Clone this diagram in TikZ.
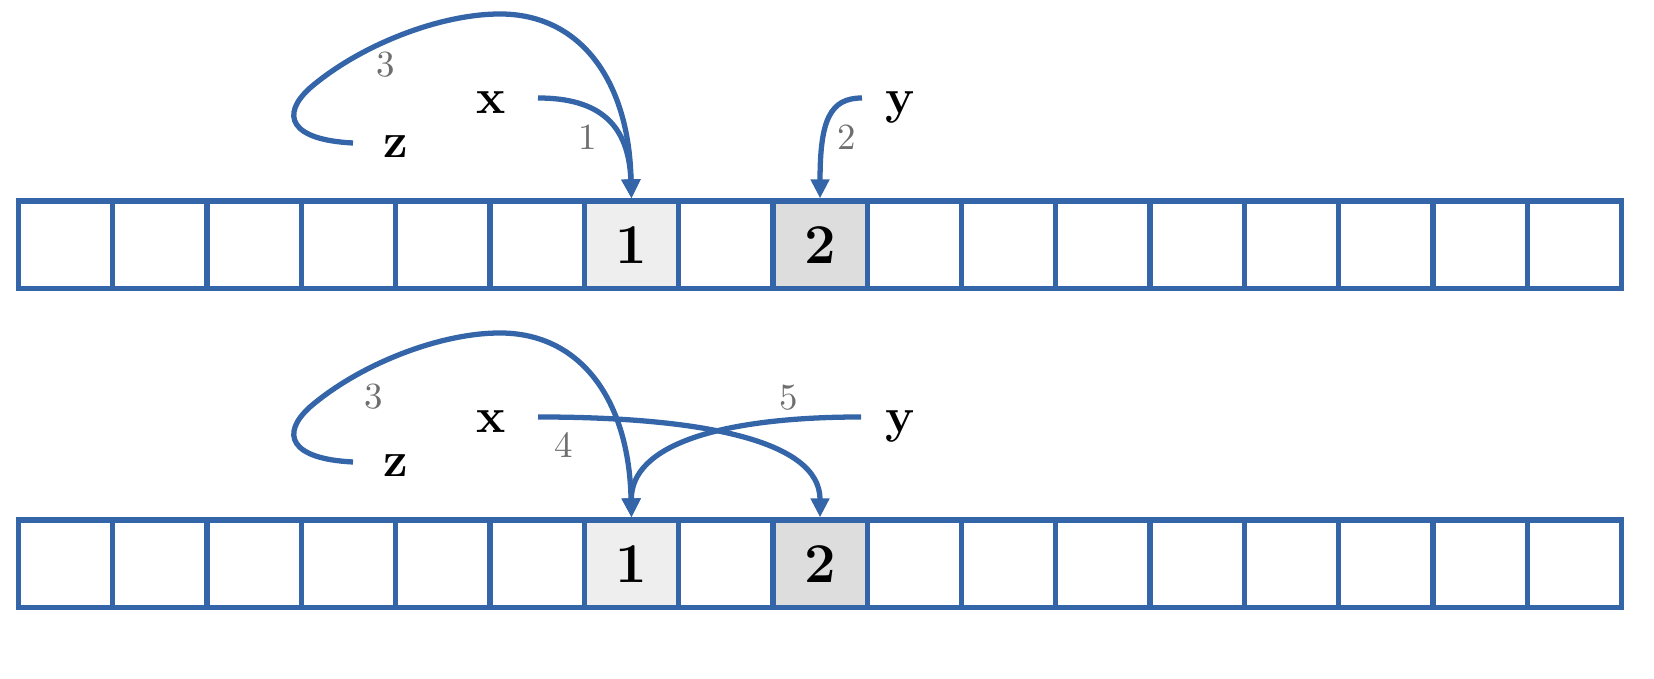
\documentclass[tikz,border=0pt]{standalone}
\usetikzlibrary{arrows.meta}
\definecolor{lineblue}{HTML}{3465A8}
\definecolor{lblgray}{HTML}{6E6E6E}
\definecolor{cellA}{HTML}{EEEEEE}
\definecolor{cellB}{HTML}{DDDDDD}
\begin{document}
\begin{tikzpicture}[x=0.1mm,y=-0.1mm,
  cell/.style={draw=lineblue, line width=1.5pt, minimum width=9.43mm, minimum height=8.75mm, inner sep=0pt, font=\fontsize{16}{18}\selectfont\bfseries},
  var/.style={anchor=base, inner sep=0pt, font=\fontsize{14}{16}\selectfont\bfseries},
  lbl/.style={text=lblgray, inner sep=0pt, font=\fontsize{10.5}{12}\selectfont},
  ptr/.style={draw=lineblue, line width=1.5pt, -{Triangle[length=1.9mm,width=1.8mm]}}]
\useasboundingbox (0,0) rectangle (1654,679);
\foreach \i in {0,...,5,7,9,10,...,16} {
  \node[cell] (t\i) at ({18.5+94.3*(\i+0.5)}, 244.75) {};
  \node[cell] (b\i) at ({18.5+94.3*(\i+0.5)}, 563.75) {};
}
\node[cell, fill=cellA] (t6) at ({18.5+94.3*6.5}, 244.75) {1};
\node[cell, fill=cellB] (t8) at ({18.5+94.3*8.5}, 244.75) {2};
\node[cell, fill=cellA] (b6) at ({18.5+94.3*6.5}, 563.75) {1};
\node[cell, fill=cellB] (b8) at ({18.5+94.3*8.5}, 563.75) {2};
% top
\node[var] (x1) at (491,114) {x};
\node[var] (z1) at (396,158) {z};
\node[var] (y1) at (900,114) {y};
\coordinate (x1s) at (538,98);
\coordinate (z1s) at (353,143);
\coordinate (y1s) at (862,98);
\draw[ptr] (x1s) .. controls (600,98) and (629,125) .. (t6.north);
\draw[ptr] (z1s) .. controls (290,140) and (280,115) .. (310,88) .. controls (360,45) and (440,14) .. (500,14) .. controls (580,14) and (629,80) .. (t6.north);
\draw[ptr] (y1s) .. controls (830,98) and (820,120) .. (t8.north);
\node[lbl] (l13) at (386,65) {3};
\node[lbl] (l11) at (588,137) {1};
\node[lbl] (l12) at (847,137) {2};
% bottom
\node[var] (x2) at (491,433) {x};
\node[var] (z2) at (396,477) {z};
\node[var] (y2) at (900,433) {y};
\coordinate (x2s) at (538,417);
\coordinate (z2s) at (353,462);
\coordinate (y2s) at (861,417);
\draw[ptr] (z2s) .. controls (290,459) and (280,434) .. (310,407) .. controls (360,364) and (440,333) .. (500,333) .. controls (580,333) and (629,399) .. (b6.north);
\draw[ptr] (x2s) .. controls (700,417) and (820,440) .. (b8.north);
\draw[ptr] (y2s) .. controls (720,417) and (631,445) .. (b6.north);
\node[lbl] (l23) at (374,397) {3};
\node[lbl] (l24) at (564,445) {4};
\node[lbl] (l25) at (789,398) {5};
\end{tikzpicture}
\end{document}
